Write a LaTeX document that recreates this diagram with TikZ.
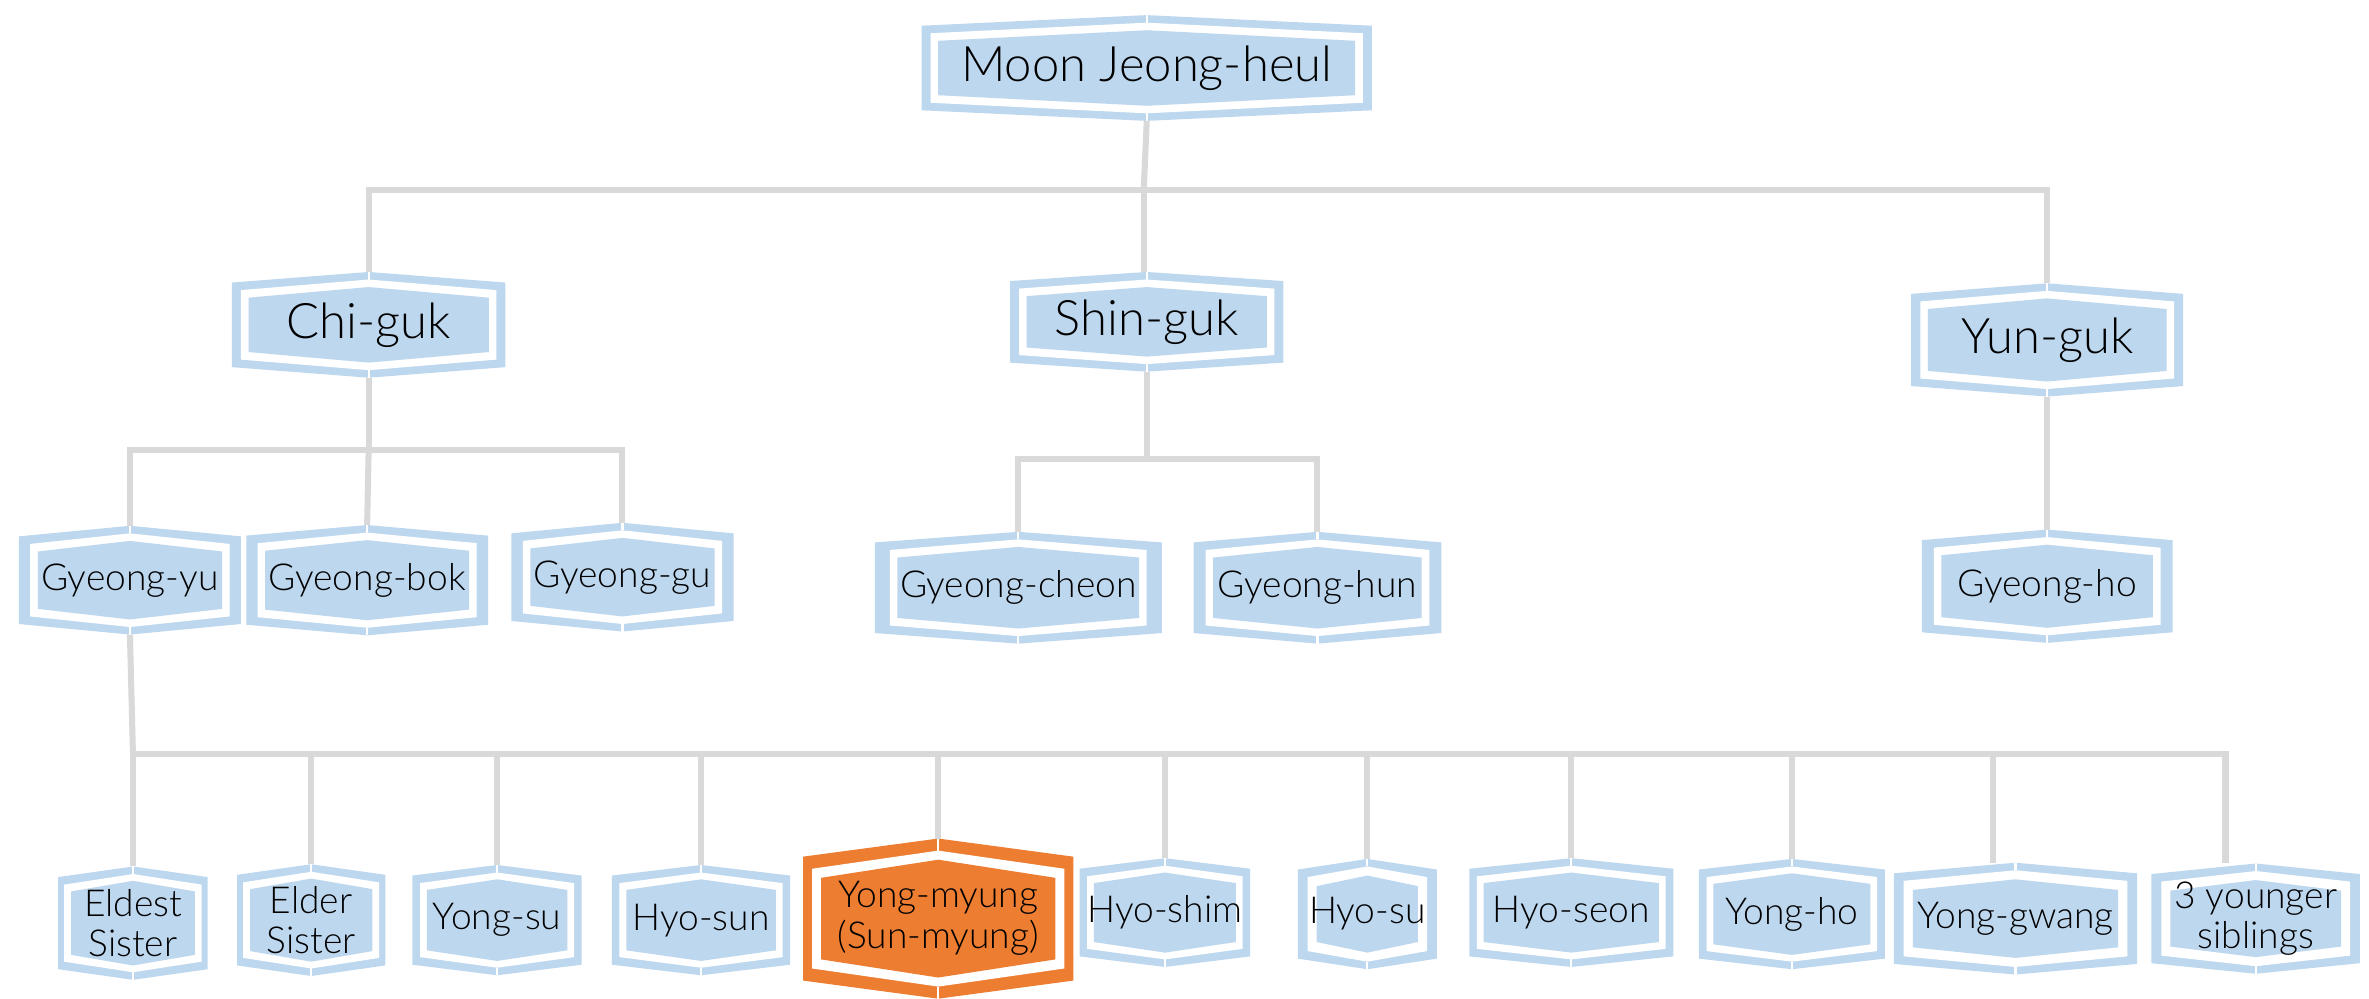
\documentclass[tikz,border=0pt]{standalone}
\usepackage{fontspec}
\setmainfont{Lato}[UprightFont=* Light]
\usetikzlibrary{calc}
\definecolor{hexblue}{HTML}{BDD7EE}
\definecolor{hexorange}{HTML}{ED7D31}
\definecolor{conngray}{HTML}{D9D9D9}
\tikzset{
  conn/.style={draw=conngray, line width=2pt},
  anchorbox/.style={inner sep=0pt, outer sep=0pt, draw=none},
  biglabel/.style={font=\fontsize{16.2}{18}\selectfont},
  smalllabel/.style={font=\fontsize{12.3}{13.5}\selectfont, align=center},
  peakcut/.style={draw=white, line width=0.7pt},
}
% frame side width, frame top width, white gap
\def\fx{6}\def\fy{5}\def\gp{5}
\newcommand\hexpath[4]{% name, peak, inset x, inset y
  ($(#1.north west)+({#3},{#2+#4})$) -- ($(#1.north)+(0,{#4})$)
  -- ($(#1.north east)+({-#3},{#2+#4})$) -- ($(#1.south east)+({-#3},{-#2-#4})$)
  -- ($(#1.south)+(0,{-#4})$) -- ($(#1.south west)+({#3},{-#2-#4})$) -- cycle}
\newcommand\hexbox[9]{% name,x,y,w,h,peak,color,style,text
  \pgfmathsetmacro\ix{\fx+\gp}%
  \pgfmathsetmacro\iy{\fy+\gp}%
  \node[anchorbox, minimum width=#4*0.5pt, minimum height=#5*0.5pt] (#1) at (#2,#3) {};
  \fill[#7] \hexpath{#1}{#6}{0}{0};
  \fill[white] \hexpath{#1}{#6}{\fx}{\fy};
  \fill[#7] \hexpath{#1}{#6}{\ix}{\iy};
  \draw[peakcut] (#1.north) -- ($(#1.north)+(0,\fy)$);
  \draw[peakcut] (#1.south) -- ($(#1.south)+(0,-\fy)$);
  \node[#8] (#1-t) at (#1) {#9};
}
\begin{document}
\begin{tikzpicture}[x=0.5pt,y=-0.5pt]
\useasboundingbox (0,0) rectangle (1568,661);
% row 0
\hexbox{moon}{759}{45}{298}{70}{7}{hexblue}{biglabel}{Moon Jeong-heul}
% row 1
\hexbox{chi}{244}{215}{181}{70}{7}{hexblue}{biglabel}{Chi-guk}
\hexbox{shin}{759}{213}{181}{66}{6}{hexblue}{biglabel}{Shin-guk}
\hexbox{yun}{1355}{225}{180}{75}{7}{hexblue}{biglabel}{Yun-guk}
% row 2
\begingroup\def\fx{7.5}
\hexbox{gyu}{86}{384}{147}{72}{7}{hexblue}{smalllabel}{Gyeong-yu}
\hexbox{gbok}{243}{384}{160}{73}{7}{hexblue}{smalllabel}{Gyeong-bok}
\hexbox{ggu}{412}{382}{147}{72}{7}{hexblue}{smalllabel}{Gyeong-gu}
\endgroup
\begingroup\def\fx{10}
\hexbox{gch}{674}{389}{190}{74}{7}{hexblue}{smalllabel}{Gyeong-cheon}
\endgroup
\begingroup\def\fx{8}
\hexbox{ghun}{872}{389}{164}{74}{7}{hexblue}{smalllabel}{Gyeong-hun}
\hexbox{gho}{1355}{388}{166}{75}{7}{hexblue}{smalllabel}{Gyeong-ho}
\endgroup
% row 3
\begingroup\def\fx{4}\def\gp{4.5}
\hexbox{eld}{88}{611}{99}{75}{7}{hexblue}{smalllabel}{Eldest\\Sister}
\hexbox{elder}{206}{609}{98}{74}{7}{hexblue}{smalllabel}{Elder\\Sister}
\endgroup
\begingroup\def\fx{5}\def\gp{4.5}
\hexbox{ysu}{329}{609}{112}{73}{7}{hexblue}{smalllabel}{Yong-su}
\hexbox{hsun}{464}{609}{118}{73}{7}{hexblue}{smalllabel}{Hyo-sun}
\hexbox{hshim}{771}{604}{113}{72}{7}{hexblue}{smalllabel}{Hyo-shim}
\hexbox{hseon}{1040}{604}{135}{72}{7}{hexblue}{smalllabel}{Hyo-seon}
\hexbox{yho}{1186}{605}{123}{73}{7}{hexblue}{smalllabel}{Yong-ho}
\endgroup
\begingroup\def\fx{6.5}\def\gp{6}
\hexbox{hsu}{905}{605}{92}{73}{7}{hexblue}{smalllabel}{Hyo-su}
\hexbox{ygw}{1334}{608}{161}{74}{7}{hexblue}{smalllabel}{Yong-gwang}
\hexbox{sib}{1493}{608}{138}{73}{7}{hexblue}{smalllabel}{3 younger\\siblings}
\endgroup
\begingroup\def\fx{6}\def\fy{8}\def\gp{6}
\hexbox{ymy}{621}{608}{179}{106}{12}{hexorange}{smalllabel}{Yong-myung\\(Sun-myung)}
\endgroup
% connectors
\coordinate (b0) at (757,126);
\draw[conn] (moon.south) -- (b0);
\draw[conn] (chi.north) |- (b0) -| (yun.north);
\draw[conn] (b0) -- (b0 |- shin.north);
\coordinate (b1) at (244,298);
\draw[conn] (chi.south) -- (b1);
\draw[conn] (gyu.north) |- (b1) -| (ggu.north);
\draw[conn] (b1) -- (gbok.north);
\coordinate (b2) at (759,304);
\draw[conn] (shin.south) -- (b2);
\draw[conn] (gch.north) |- (b2) -| (ghun.north);
\draw[conn] (yun.south) -- (gho.north);
\coordinate (b3) at (88,499);
\coordinate (b4) at (1473,499);
\coordinate (b5) at (1319,499);
\draw[conn] (gyu.south) -- (b3);
\draw[conn] (eld.north) -- (b3) -- (b4) -- (b4 |- sib.north);
\draw[conn] (b5) -- (b5 |- ygw.north);
\foreach \n in {elder,ysu,hsun,ymy,hshim,hsu,hseon,yho}
  \draw[conn] (\n.north) -- (\n.north |- b3);
\end{tikzpicture}
\end{document}
